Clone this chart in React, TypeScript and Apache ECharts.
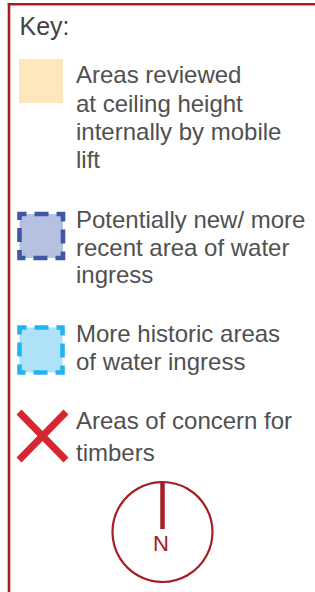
import React, { useEffect, useRef } from "react";
import * as echarts from "echarts";

const keyTitle = "Key:";
const itemLabels: string[][] = [
  ["Areas reviewed", "at ceiling height", "internally by mobile", "lift"],
  ["Potentially new/ more", "recent area of water", "ingress"],
  ["More historic areas", "of water ingress"],
  ["Areas of concern for", "timbers"],
];
const northLabel = "N";

const W = 315;
const H = 592;
const FONT = '"Liberation Sans", Arial, Helvetica, sans-serif';
const TEXT_COLOR = "#505050";
const FRAME = "#a51e24";

function textLines(lines: string[], baseline: number, lh: number, x: number, size: number) {
  return lines.map((t, i) => ({
    type: "text",
    silent: true,
    style: {
      text: t,
      x,
      y: baseline + i * lh - 0.3465 * size,
      font: `${size}px ${FONT}`,
      fill: TEXT_COLOR,
      align: "left",
      verticalAlign: "middle",
    },
  }));
}

export default function App() {
  const ref = useRef<HTMLDivElement>(null);
  useEffect(() => {
    if (!ref.current) return;
    const chart = echarts.init(ref.current, null, { renderer: "svg", width: W, height: H });
    const baselines = [83.3, 228, 342, 428.5];
    const lineHeights = [28.3, 27.5, 28, 32.5];
    const texts = itemLabels.flatMap((ls, i) => textLines(ls, baselines[i], lineHeights[i], 76, 24));
    chart.setOption({
      animation: false,
      backgroundColor: "#ffffff",
      graphic: [
        {
          type: "rect",
          silent: true,
          shape: { x: 7.7, y: 3, width: 2.6, height: 589 },
          style: { fill: FRAME },
        },
        {
          type: "rect",
          silent: true,
          shape: { x: 7.7, y: 3, width: 307.3, height: 2.6 },
          style: { fill: FRAME },
        },
        {
          type: "text",
          silent: true,
          style: {
            text: keyTitle,
            x: 19.5,
            y: 35 - 0.3465 * 25,
            font: `25px ${FONT}`,
            fill: "#424242",
            verticalAlign: "middle",
          },
        },
        {
          type: "rect",
          silent: true,
          shape: { x: 19, y: 59, width: 44, height: 44 },
          style: { fill: "#fee6bd" },
        },
        {
          type: "rect",
          silent: true,
          shape: { x: 19.5, y: 214, width: 43.5, height: 44 },
          style: {
            fill: "#b6c0e0",
            stroke: "#3d58a6",
            lineWidth: 4.6,
            lineDash: [14, 8],
            lineDashOffset: 7,
          },
        },
        {
          type: "rect",
          silent: true,
          shape: { x: 19.5, y: 327.5, width: 43, height: 45 },
          style: {
            fill: "#ade2f8",
            stroke: "#25b3ef",
            lineWidth: 4.6,
            lineDash: [14, 8],
            lineDashOffset: 7,
          },
        },
        {
          type: "line",
          silent: true,
          shape: { x1: 19, y1: 412, x2: 66, y2: 460 },
          style: { stroke: "#d6262f", lineWidth: 7 },
        },
        {
          type: "line",
          silent: true,
          shape: { x1: 66, y1: 412, x2: 19, y2: 460 },
          style: { stroke: "#d6262f", lineWidth: 7 },
        },
        ...texts,
        {
          type: "circle",
          silent: true,
          shape: { cx: 162.5, cy: 532, r: 50 },
          style: { fill: "none", stroke: FRAME, lineWidth: 2.2 },
        },
        {
          type: "line",
          silent: true,
          shape: { x1: 162.5, y1: 482, x2: 162.5, y2: 529 },
          style: { stroke: FRAME, lineWidth: 4.5 },
        },
        {
          type: "text",
          silent: true,
          style: {
            text: northLabel,
            x: 161,
            y: 551 - 0.3465 * 22,
            font: `22px ${FONT}`,
            fill: FRAME,
            align: "center",
            verticalAlign: "middle",
          },
        },
      ],
    });
    return () => chart.dispose();
  }, []);
  return (
    <div
      ref={ref}
      style={{ position: "absolute", left: 0, top: 0, width: W, height: H, overflow: "hidden" }}
    />
  );
}
